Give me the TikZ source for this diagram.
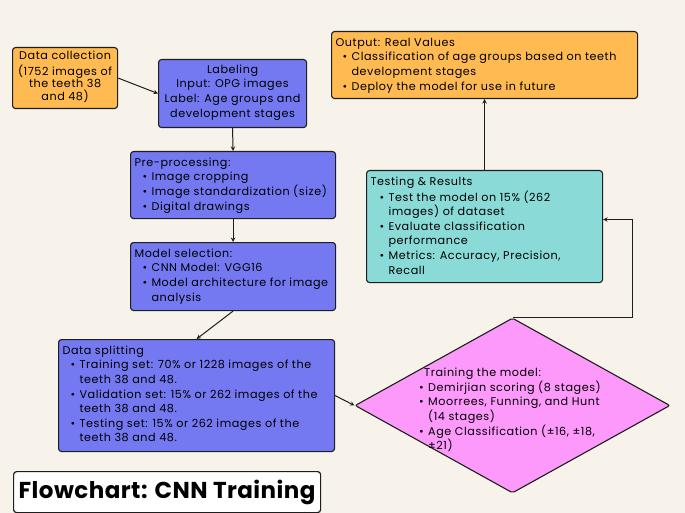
\documentclass[tikz,border=0pt]{standalone}
\usepackage{fontspec}
\setmainfont{Poppins}[LetterSpace=5]
\newfontfamily\titlefont{Poppins}[LetterSpace=2]
\usetikzlibrary{
		shapes.geometric,
		positioning
	}
\definecolor{bgcream}{HTML}{F7F3EB}
\definecolor{edge}{HTML}{1E1E1E}
\definecolor{boxorange}{HTML}{FFBA52}
\definecolor{boxblue}{HTML}{7479F1}
\definecolor{boxteal}{HTML}{8ADBD8}
\definecolor{boxpink}{HTML}{FD99FB}
\tikzset{
		>=stealth,
		stagebox/.style={draw=edge, line width=1.1pt, rounded corners=3pt, inner xsep=4pt, inner ysep=0pt, anchor=north west, font=\fontsize{11.2}{14.6}\selectfont},
		link/.style={draw=edge, line width=1pt, ->}
	}
% text block of a box: width, height, content
\newcommand{\boxtxt}[3]{\parbox[c][#2][t]{#1}{\vspace*{4.5pt}\raggedright\strut #3}}
\newcommand{\bul}[2][8pt]{\par\hangindent=\dimexpr#1+9pt\relax\hangafter=1\noindent\hspace*{#1}\makebox[9pt][l]{\textbullet}#2}

\begin{document}
\begin{tikzpicture}[x=1pt, y=-1pt]
            \fill[bgcream] (0,0) rectangle (685,513);
            \useasboundingbox (0,0) rectangle (685,513);

            % boxes
            \node[stagebox, fill=boxorange] (collect) at (12,47) {\parbox[c][61pt][t]{97pt}{\vspace*{3.5pt}\centering\fontsize{11.2}{12.7}\selectfont\strut Data collection\\(1752 images of\\the teeth 38\\and 48)}};
            \node[stagebox, fill=boxblue] (label) at (158,59) {\parbox[c][68pt][t]{140pt}{\vspace*{3.5pt}\centering\strut Labeling\\Input: OPG images\\Label: Age groups and\\development stages}};
            \node[stagebox, fill=boxblue] (pre) at (130,151) {\boxtxt{197pt}{67pt}{Pre-processing:
                \bul{Image cropping}
                \bul{Image standardization (size)}
                \bul{Digital drawings}}};
            \node[stagebox, fill=boxblue] (model) at (130,242) {\boxtxt{197pt}{68pt}{Model selection:
                \bul{CNN Model: VGG16}
                \bul{Model architecture for image\newline analysis}}};
            \node[stagebox, fill=boxblue] (split) at (58,339) {\boxtxt{268pt}{112pt}{Data splitting
                \bul{Training set: 70\% or 1228 images of the\newline teeth 38 and 48.}
                \bul{Validation set: 15\% or 262 images of the\newline teeth 38 and 48.}
                \bul{Testing set: 15\% or 262 images of the\newline teeth 38 and 48.}}};
            \node[stagebox, fill=boxteal] (test) at (366,170) {\boxtxt{228pt}{112pt}{Testing \& Results
                \bul[9pt]{Test the model on 15\% (262\newline images) of dataset}
                \bul[9pt]{Evaluate classification\newline performance}
                \bul[9pt]{Metrics: Accuracy, Precision,\newline Recall}}};
            \node[stagebox, fill=boxorange] (out) at (331,31) {\boxtxt{298pt}{67pt}{Output: Real Values
                \bul[7pt]{Classification of age groups based on teeth\newline development stages}
                \bul[7pt]{Deploy the model for use in future}}};

            % training diamond
            \node[shape=diamond, draw=edge, fill=boxpink, line width=1.1pt, rounded corners=2pt, inner sep=0pt, minimum width=315pt, minimum height=175pt] (train) at (512.5,405.5) {};
            \node[anchor=base west, inner sep=0pt, font=\fontsize{11.2}{14.6}\selectfont] (traintext) at (419,376.7) {\parbox[t]{220pt}{\raggedright\hspace*{5pt}Training the model:
                \bul[0pt]{Demirjian scoring (8 stages)}
                \bul[0pt]{Moorrees, Funning, and Hunt\newline (14 stages)}
                \bul[0pt]{Age Classification (±16, ±18,\newline ±21)}}};

            % title
            \node[draw=edge, fill=white, line width=1.2pt, rounded corners=3pt, anchor=north west, minimum width=307pt, minimum height=41pt, font=\titlefont\fontsize{23}{26}\selectfont\bfseries] (title) at (13,471) {Flowchart: CNN Training};

            % connectors
            \draw[link] (collect.east) -- (label.west);
            \draw[link] (label.south) -- (pre.north);
            \draw[link] (pre.south) -- (model.north);
            \draw[link] (model.south) -- (split.north);
            \draw[link] (split.east) -- (train.west);
            \draw[link] (train.north) -- ++(120,0) |- ([yshift=7pt]test.east);
            \draw[link] (test.north) -- (out.south);

        \end{tikzpicture}
\end{document}
